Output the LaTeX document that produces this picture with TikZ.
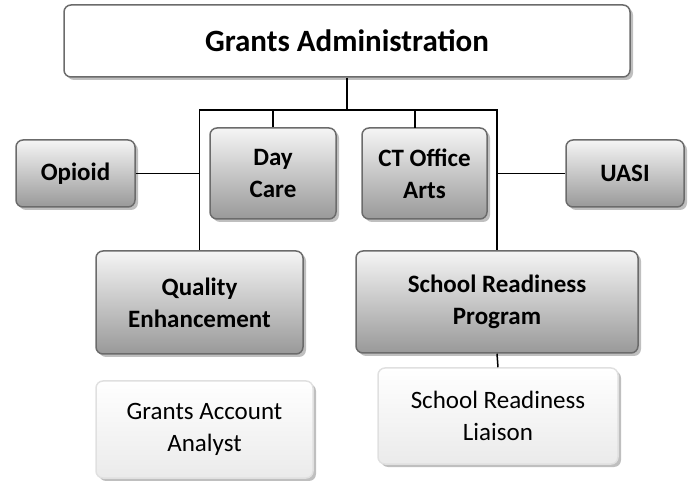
\documentclass[tikz,border=0pt]{standalone}
\usepackage{fontspec}
\setmainfont{Carlito}
\usetikzlibrary{shadows}
\begin{document}
\begin{tikzpicture}
    [
    x=1pt,y=-1pt,
    unit/.style={rounded corners=7pt,draw=black!58,line width=1.5pt,align=center,
      font=\fontsize{25}{32}\selectfont\bfseries,inner sep=0pt,
      top color=black!4,bottom color=black!40,
      drop shadow={shadow xshift=3pt,shadow yshift=-3pt,fill=black!25,opacity=1}},
    head/.style={unit,top color=white,bottom color=white,
      font=\fontsize{31}{36}\selectfont\bfseries},
    staff/.style={unit,draw=black!12,font=\fontsize{25}{32}\selectfont,
      top color=white,bottom color=black!8},
    link/.style={line width=1.5pt}
    ]
    \useasboundingbox (0,0) rectangle (689,481);
    \node (ga) at (347,41) [head,minimum width=566,minimum height=72] {Grants Administration};
    \node (opioid) at (75.5,173.5) [unit,minimum width=119,minimum height=67] {Opioid};
    \node (daycare) at (273,173.5) [unit,minimum width=126,minimum height=91] {Day\\Care};
    \node (ctarts) at (424.5,173.5) [unit,minimum width=125,minimum height=91] {CT Office\\Arts};
    \node (uasi) at (625,173.5) [unit,minimum width=118,minimum height=67] {UASI};
    \node (qe) at (199.5,302.5) [unit,minimum width=207,minimum height=103] {Quality\\Enhancement};
    \node (srp) at (497,302) [unit,minimum width=282,minimum height=102] {School Readiness\\Program};
    \node (gaa) at (204.5,429.5) [staff,minimum width=217,minimum height=97] {Grants Account\\Analyst};
    \node (srl) at (498,416) [staff,minimum width=240,minimum height=96] {School Readiness\\Liaison};
    \coordinate (busL) at (198,110);
    \coordinate (ctdrop) at (415,128);
    \draw [link] (qe.north) -- (qe.north |- busL) -- (srp.north |- busL) -- (srp.north);
    \draw [link] (ga.south) -- (ga.south |- busL);
    \draw [link] (daycare.north) -- (daycare.north |- busL);
    \draw [link] (ctdrop) -- (ctdrop |- busL);
    \draw [link] (opioid.east) -- (opioid.east -| qe.north);
    \draw [link] (uasi.west) -- (uasi.west -| srp.north);
    \draw [link] (srp.south) -- (srl.north);
  \end{tikzpicture}
\end{document}
